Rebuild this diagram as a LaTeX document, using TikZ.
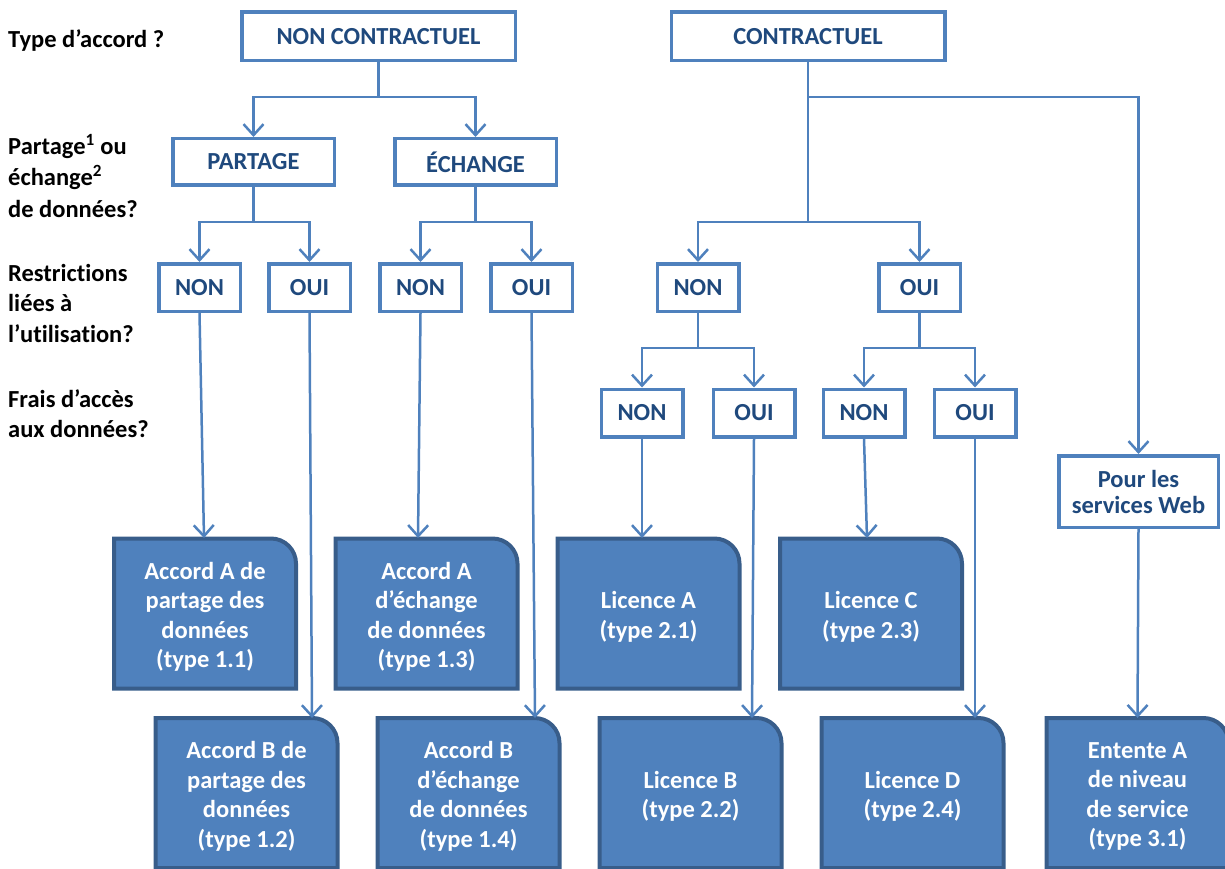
\documentclass[tikz,border=0pt]{standalone}
\usepackage{fontspec}
\setmainfont{Carlito}[Ligatures=NoCommon]
\usetikzlibrary{arrows.meta}
\definecolor{lblue}{RGB}{79,129,189}
\definecolor{dframe}{RGB}{56,93,138}
\definecolor{tblue}{RGB}{31,73,125}
\newcommand\mydbox[4]{%
  \node[dtext] (#1) at (#2,#3) {};
  \draw[dshape] ([xshift=-91pt,yshift=-75pt]#1.center) -- ++(0,150pt) -- ++(157pt,0)
     arc[start angle=90,end angle=0,radius=25pt] -- ++(0,-125pt) -- cycle;
  \node[dlabel] at ([yshift=-3.5pt]#1.center) {#4};
}
\begin{document}
\begin{tikzpicture}[x=1pt,y=1pt,
  lbox/.style={draw=lblue, line width=3.5pt, fill=white, text=tblue, font=\bfseries\fontsize{24.5}{26}\selectfont, inner sep=0pt, align=center},
  big/.style={lbox, minimum width=273.5pt, minimum height=48.5pt},
  mid/.style={lbox, minimum width=161.5pt, minimum height=46.5pt},
  small/.style={lbox, minimum width=81.5pt, minimum height=47.5pt},
  dtext/.style={minimum width=182pt, minimum height=150pt, inner sep=0pt},
  dlabel/.style={text=white, font=\bfseries\fontsize{24.5}{29.5}\selectfont, align=center, inner sep=0pt},
  dshape/.style={draw=dframe, line width=4pt, fill=lblue},
  qlabel/.style={anchor=north west, align=left, inner sep=0pt, font=\bfseries\fontsize{24.5}{30.5}\selectfont},
  conn/.style={draw=lblue, line width=2.5pt},
  arr/.style={conn, -{Straight Barb[length=11pt,width=20pt]}}]
\useasboundingbox (0,0) rectangle (1225,-869);

% question labels
\node[qlabel] (q1) at (8,-29) {Type d’accord ?};
\node[qlabel, font=\bfseries\fontsize{24.5}{31.5}\selectfont] (q2) at (8,-134) {Partage\textsuperscript{1} ou\\échange\textsuperscript{2}\\de données?};
\node[qlabel] (q3) at (8,-264) {Restrictions\\liées à\\l’utilisation?};
\node[qlabel] (q4) at (8,-389) {Frais d’accès\\aux données?};

% top level
\node[big] (nc) at (378.5,-36.5) {NON CONTRACTUEL};
\node[big] (c) at (808,-36.5) {CONTRACTUEL};
\node[mid] (pa) at (253.5,-162) {PARTAGE};
\node[mid] (ec) at (475.5,-162) {ÉCHANGE};

\node[small] (n1) at (199.5,-287.5) {NON};
\node[small] (o1) at (309.5,-287.5) {OUI};
\node[small] (n2) at (420.5,-287.5) {NON};
\node[small] (o2) at (531.5,-287.5) {OUI};
\node[small] (n3) at (698,-287.5) {NON};
\node[small] (o3) at (919.5,-287.5) {OUI};

\node[small] (n4) at (642,-413) {NON};
\node[small] (o4) at (754,-413) {OUI};
\node[small] (n5) at (864,-413) {NON};
\node[small] (o5) at (975,-413) {OUI};

\node[lbox, minimum width=159.5pt, minimum height=71.5pt] (web) at (1138.5,-491.5) {Pour les\\services Web};

% dark boxes
\mydbox{a1}{205}{-613.5}{Accord A de\\partage des\\données\\(type 1.1)}
\mydbox{a3}{426.5}{-613.5}{Accord A\\d’échange\\de données\\(type 1.3)}
\mydbox{la}{648.5}{-613.5}{Licence A\\(type 2.1)}
\mydbox{lc}{871}{-613.5}{Licence C\\(type 2.3)}
\mydbox{b1}{246.5}{-793}{Accord B de\\partage des\\données\\(type 1.2)}
\mydbox{b3}{468.5}{-793}{Accord B\\d’échange\\de données\\(type 1.4)}
\mydbox{lb}{690.5}{-793}{Licence B\\(type 2.2)}
\mydbox{ld}{912.5}{-793}{Licence D\\(type 2.4)}
\mydbox{en}{1137.5}{-793}{Entente A\\de niveau\\de service\\(type 3.1)}

% coordinates
\coordinate (j1) at (378.5,-97);
\coordinate (j2) at (808,-97);
\coordinate (j3) at (808,-222);
\coordinate (j4) at (253.5,-222);
\coordinate (j5) at (475.5,-222);
\coordinate (j6) at (698,-348);
\coordinate (j7) at (919.5,-348);
\coordinate (t1) at (204,-538);
\coordinate (t2) at (312,-718);
\coordinate (t3) at (418,-538);
\coordinate (t4) at (535,-718);
\coordinate (t5) at (642,-538);
\coordinate (t6) at (752,-718);
\coordinate (t7) at (867,-538);
\coordinate (t8) at (975,-718);

% connectors
\draw[conn] (nc.south) -- (j1);
\draw[arr] (j1) -| (pa.north);
\draw[arr] (j1) -| (ec.north);
\draw[conn] (c.south) -- (j2);
\draw[arr] (j2) -| (web.north);
\draw[conn] (j2) -- (j3);
\draw[arr] (j3) -| (n3.north);
\draw[arr] (j3) -| (o3.north);
\draw[conn] (pa.south) -- (j4);
\draw[arr] (j4) -| (n1.north);
\draw[arr] (j4) -| (o1.north);
\draw[conn] (ec.south) -- (j5);
\draw[arr] (j5) -| (n2.north);
\draw[arr] (j5) -| (o2.north);
\draw[conn] (n3.south) -- (j6);
\draw[arr] (j6) -| (n4.north);
\draw[arr] (j6) -| (o4.north);
\draw[conn] (o3.south) -- (j7);
\draw[arr] (j7) -| (n5.north);
\draw[arr] (j7) -| (o5.north);

\draw[arr] (n1.south) -- (t1);
\draw[arr] (o1.south) -- (t2);
\draw[arr] (n2.south) -- (t3);
\draw[arr] (o2.south) -- (t4);
\draw[arr] (n4.south) -- (t5);
\draw[arr] (o4.south) -- (t6);
\draw[arr] (n5.south) -- (t7);
\draw[arr] (o5.south) -- (t8);
\draw[arr] (web.south) -- (en.north);
\end{tikzpicture}
\end{document}
